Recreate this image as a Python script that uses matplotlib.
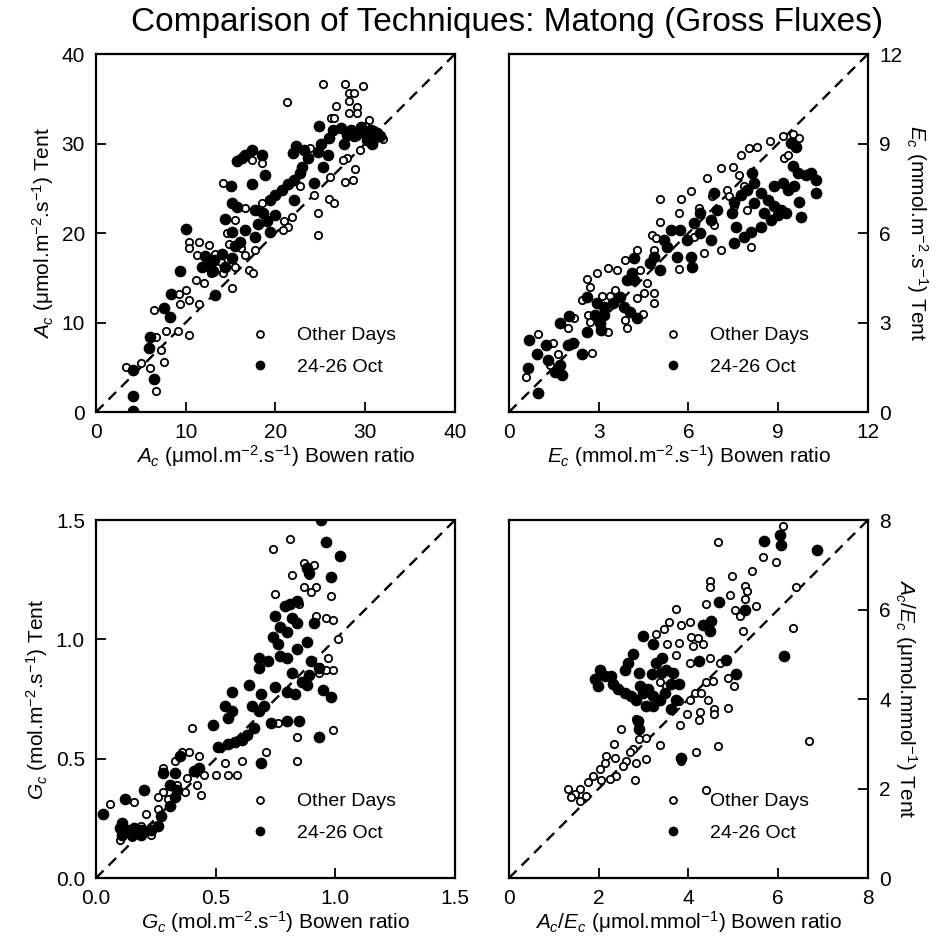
import matplotlib
matplotlib.use("Agg")
import matplotlib.pyplot as plt
from matplotlib.lines import Line2D
from matplotlib.ticker import FormatStrFormatter

plt.rcParams['font.family'] = ['Liberation Sans', 'DejaVu Sans']
plt.rcParams['mathtext.fontset'] = 'custom'
plt.rcParams['mathtext.rm'] = 'Liberation Sans'
plt.rcParams['mathtext.it'] = 'Liberation Sans:italic'

# ---- panel 1: A_c ----
a_other_x = [25.3, 27.8, 29.8, 21.3, 28.2, 28.8, 26.7, 28.2, 29.1, 28.2, 29.1, 26.2, 26.5, 30.4, 29.4, 23.8,
             28.0, 27.5, 28.9, 27.8, 28.6, 26.1, 17.4, 18.5, 14.2, 22.7, 24.3, 24.7, 24.7, 26.0, 26.5, 21.8,
             21.0, 21.4, 20.8, 18.5, 16.6, 15.5, 14.6, 10.4, 11.5, 10.4, 12.6, 11.3, 16.2, 16.6, 17.7, 15.5,
             17.0, 17.5, 14.2, 11.1, 15.2, 10.0, 9.3, 9.4, 10.4, 11.5, 6.5, 7.8, 9.1, 10.4, 6.7, 7.2, 7.6,
             5.0, 3.3, 6.0, 6.7, 13.3, 12.2, 13.9, 12.8, 12.0, 14.8, 31.0, 30.0, 32.0]
a_other_y = [36.6, 36.6, 36.4, 34.6, 35.6, 35.6, 34.2, 34.7, 34.1, 33.4, 33.4, 32.8, 32.8, 32.6, 29.3, 29.5,
             28.4, 28.2, 27.1, 25.7, 25.9, 26.3, 28.2, 27.8, 25.6, 25.2, 24.3, 22.2, 19.8, 23.8, 23.3, 21.8,
             21.3, 20.7, 20.3, 23.3, 22.8, 21.5, 20.0, 19.0, 19.0, 18.3, 18.7, 17.5, 18.3, 17.5, 18.1, 16.2,
             15.9, 15.5, 15.5, 14.7, 13.9, 13.6, 13.2, 12.1, 12.5, 12.1, 11.4, 9.1, 9.1, 8.6, 8.4, 6.9, 5.6,
             5.5, 5.0, 4.9, 2.4, 17.7, 16.2, 16.8, 15.5, 14.4, 18.8, 31.5, 32.0, 30.5]
a_oct_x = [24.9, 26.4, 27.3, 28.4, 29.5, 30.6, 31.3, 31.7, 30.2, 28.8, 30.8, 27.6, 22.3, 21.9, 23.2, 25.1,
           24.7, 25.8, 23.6, 16.3, 15.7, 17.4, 18.5, 16.6, 18.8, 17.4, 15.0, 22.9, 22.7, 22.1, 25.3, 24.3,
           21.4, 20.7, 19.9, 19.4, 22.1, 15.1, 15.7, 17.7, 18.6, 19.0, 19.4, 14.4, 16.6, 17.7, 10.0, 15.1,
           15.5, 12.2, 11.8, 13.1, 14.0, 14.4, 15.1, 9.4, 13.3, 8.4, 7.6, 8.2, 6.0, 5.9, 6.5, 4.1, 4.1, 4.1,
           29.0, 30.0, 31.0, 28.0, 26.0, 20.0, 18.0, 13.0, 12.5, 16.0]
a_oct_y = [32.0, 31.5, 31.7, 31.5, 31.9, 31.5, 31.2, 30.8, 30.4, 30.8, 30.0, 30.0, 29.7, 28.9, 29.3, 30.0,
           29.1, 28.7, 28.4, 28.4, 28.0, 29.3, 28.7, 28.7, 26.5, 25.5, 25.2, 27.4, 26.7, 25.9, 27.4, 25.6,
           25.5, 24.8, 24.3, 23.7, 23.7, 23.4, 22.9, 22.6, 22.2, 21.3, 20.1, 21.6, 20.3, 19.6, 20.4, 20.1,
           18.5, 17.4, 16.2, 17.0, 17.7, 16.2, 17.2, 15.7, 13.1, 13.2, 11.6, 10.6, 8.4, 7.1, 3.7, 4.7, 1.8, 0.1,
           31.0, 31.2, 30.6, 31.0, 30.6, 22.0, 21.0, 15.8, 16.6, 19.0]

# ---- panel 2: E_c ----
e_other_x = [9.15, 9.49, 9.71, 8.72, 8.29, 8.03, 7.75, 7.08, 7.50, 9.21, 9.32, 6.61, 7.69, 6.07, 5.76, 5.06,
             5.68, 5.04, 6.35, 4.78, 4.93, 6.80, 7.30, 7.36, 4.28, 4.84, 6.52, 7.08, 5.70, 3.89, 3.61, 3.32,
             2.93, 2.60, 2.71, 3.10, 3.38, 3.55, 4.39, 4.61, 4.50, 4.84, 4.28, 4.48, 4.84, 2.43, 2.65, 2.71,
             3.32, 3.89, 3.94, 2.17, 1.98, 0.97, 1.48, 1.65, 1.37, 0.58, 2.77, 6.18, 6.85, 7.53, 7.86, 7.97, 8.08]
e_other_y = [9.24, 9.32, 9.18, 9.07, 8.90, 8.85, 8.62, 8.18, 8.21, 8.51, 8.62, 7.84, 7.95, 7.42, 7.13, 7.13,
             6.66, 6.38, 6.83, 5.93, 5.82, 7.25, 7.45, 7.25, 5.43, 5.43, 5.32, 5.43, 4.78, 5.10, 4.76, 4.82,
             4.65, 4.45, 4.20, 3.89, 3.89, 4.09, 4.76, 4.31, 3.98, 3.98, 3.81, 3.27, 3.64, 3.75, 3.25, 3.02,
             2.69, 3.08, 2.80, 3.14, 2.80, 2.60, 2.30, 1.96, 1.57, 1.18, 1.99, 5.88, 6.27, 6.89, 7.56, 6.77, 5.54]
e_oct_x = [9.43, 9.60, 9.49, 9.65, 10.1, 10.27, 9.93, 10.27, 9.71, 9.76, 8.14, 8.20, 8.87, 9.15, 9.32, 9.54,
           8.42, 8.65, 8.87, 9.09, 9.26, 8.20, 8.53, 8.75, 8.98, 7.97, 7.75, 7.53, 7.47, 6.85, 6.96, 6.74,
           7.58, 7.86, 8.08, 7.53, 8.42, 6.40, 6.18, 6.40, 6.74, 5.73, 5.96, 5.28, 5.62, 6.07, 6.12, 4.84,
           5.06, 4.73, 4.17, 4.11, 3.94, 4.17, 3.72, 3.49, 3.83, 4.05, 4.28, 2.93, 3.16, 3.16, 2.89, 2.61,
           3.06, 3.04, 2.01, 1.70, 2.61, 1.98, 2.15, 2.43, 0.67, 0.92, 1.25, 1.31, 1.70, 1.76, 1.53, 0.64,
           0.97, 5.17, 5.40]
e_oct_y = [9.01, 8.90, 8.23, 8.01, 8.01, 7.78, 7.95, 7.33, 7.05, 6.55, 8.01, 7.67, 7.56, 7.67, 7.45, 7.56,
           7.33, 7.11, 6.89, 6.77, 6.66, 7.00, 6.66, 6.44, 6.61, 7.45, 7.28, 7.05, 6.66, 7.33, 6.77, 6.44,
           6.21, 5.88, 6.05, 5.65, 6.21, 6.66, 6.33, 5.99, 5.77, 6.10, 5.77, 5.54, 5.21, 5.21, 4.87, 5.21,
           4.76, 4.98, 5.15, 4.65, 4.42, 4.42, 3.86, 3.64, 3.53, 3.36, 3.14, 3.64, 3.53, 3.25, 3.25, 3.86,
           2.74, 2.97, 3.21, 2.97, 2.69, 2.24, 2.30, 1.96, 2.41, 1.96, 2.24, 1.74, 1.57, 1.23, 1.34, 1.46,
           0.64, 5.77, 6.10]

# ---- panel 3: G_c ----
g_other_x = [0.81, 0.74, 0.87, 0.91, 0.89, 0.82, 0.87, 0.92, 0.90, 0.75, 0.98, 0.85, 0.92, 0.96, 0.99, 0.84,
             1.01, 0.97, 0.93, 0.96, 0.99, 0.99, 0.84, 0.84, 0.76, 0.71, 0.61, 0.54, 0.40, 0.39, 0.36, 0.43,
             0.33, 0.28, 0.38, 0.45, 0.50, 0.55, 0.59, 0.42, 0.37, 0.44, 0.34, 0.28, 0.26, 0.30, 0.16, 0.06,
             0.21, 0.26, 0.23, 0.10, 0.15, 0.19, 0.24]
g_other_y = [1.42, 1.38, 1.32, 1.31, 1.27, 1.27, 1.22, 1.22, 1.20, 1.19, 1.18, 1.15, 1.10, 1.09, 1.08, 1.07,
             1.00, 0.92, 0.86, 0.87, 0.87, 0.62, 0.59, 0.49, 0.65, 0.53, 0.49, 0.48, 0.63, 0.53, 0.53, 0.51,
             0.49, 0.46, 0.42, 0.43, 0.43, 0.43, 0.43, 0.39, 0.36, 0.35, 0.39, 0.36, 0.34, 0.33, 0.32, 0.31,
             0.27, 0.29, 0.18, 0.16, 0.17, 0.22, 0.22]
g_oct_x = [0.94, 0.96, 1.02, 0.98, 0.88, 0.89, 0.81, 0.84, 0.79, 0.75, 0.82, 0.84, 0.91, 0.77, 0.80, 0.74,
           0.76, 0.88, 0.84, 0.77, 0.80, 0.68, 0.72, 0.68, 0.90, 0.93, 0.82, 0.89, 0.86, 0.88, 0.64, 0.57,
           0.75, 0.69, 0.65, 0.70, 0.68, 0.80, 0.83, 0.95, 0.98, 0.54, 0.55, 0.57, 0.49, 0.73, 0.80, 0.85,
           0.93, 0.66, 0.63, 0.61, 0.58, 0.55, 0.51, 0.69, 0.35, 0.28, 0.33, 0.41, 0.43, 0.20, 0.12, 0.03,
           0.31, 0.34, 0.33, 0.31, 0.10, 0.13, 0.16, 0.19, 0.11, 0.15, 0.19, 0.23, 0.26, 0.11, 0.27]
g_oct_y = [1.50, 1.41, 1.35, 1.26, 1.30, 1.28, 1.15, 1.16, 1.14, 1.10, 1.09, 1.07, 1.07, 1.05, 1.03, 1.01,
           0.98, 0.99, 0.96, 0.93, 0.92, 0.92, 0.91, 0.88, 0.91, 0.88, 0.86, 0.85, 0.82, 0.81, 0.81, 0.78,
           0.80, 0.77, 0.72, 0.72, 0.70, 0.78, 0.77, 0.79, 0.76, 0.72, 0.67, 0.70, 0.64, 0.65, 0.66, 0.66,
           0.59, 0.63, 0.60, 0.58, 0.57, 0.56, 0.55, 0.48, 0.51, 0.44, 0.44, 0.45, 0.46, 0.37, 0.33, 0.27,
           0.39, 0.37, 0.34, 0.30, 0.21, 0.20, 0.21, 0.20, 0.18, 0.18, 0.18, 0.20, 0.22, 0.23, 0.26]

# ---- panel 4: A_c/E_c ----
r_other_x = [6.11, 4.66, 5.66, 5.94, 5.42, 4.96, 4.49, 4.49, 4.93, 5.27, 5.31, 5.27, 6.40, 4.38, 3.73, 5.03,
             5.14, 5.50, 6.34, 5.22, 3.57, 3.28, 3.45, 3.84, 4.04, 4.06, 4.21, 3.80, 4.10, 4.32, 3.52, 3.73,
             4.47, 4.71, 4.03, 4.38, 4.55, 4.87, 5.01, 3.36, 3.51, 3.80, 4.04, 4.14, 4.29, 4.43, 4.87, 4.56,
             4.58, 4.25, 4.23, 3.97, 3.82, 2.50, 2.84, 2.90, 3.06, 3.36, 2.33, 2.76, 2.69, 2.61, 2.54, 2.82,
             3.06, 2.17, 2.13, 2.02, 2.36, 2.39, 2.24, 2.06, 2.80, 4.17, 4.66, 6.69, 1.87, 1.76, 1.58, 1.31,
             1.46, 1.39, 1.58, 1.72, 4.40, 3.84]
r_other_y = [7.87, 7.51, 7.17, 7.06, 6.87, 6.76, 6.64, 6.50, 6.33, 6.53, 6.41, 6.24, 6.50, 6.13, 6.01, 6.00,
             5.85, 6.09, 5.59, 5.52, 5.72, 5.46, 5.57, 5.66, 5.72, 5.39, 5.37, 5.26, 5.18, 5.22, 5.24, 4.98,
             4.91, 4.80, 4.81, 4.38, 4.40, 4.46, 4.29, 4.38, 4.29, 3.96, 3.98, 4.13, 4.13, 3.99, 3.81, 3.77,
             3.66, 3.70, 3.53, 3.66, 3.42, 3.33, 3.56, 3.10, 3.14, 2.97, 2.99, 2.88, 2.82, 2.62, 2.51, 2.58,
             2.66, 2.73, 2.58, 2.44, 2.69, 2.29, 2.21, 2.18, 2.18, 2.81, 2.95, 3.07, 2.29, 2.14, 1.99, 1.99,
             1.88, 1.80, 1.73, 1.84, 1.97, 2.62]
r_oct_x = [5.68, 6.03, 6.07, 6.86, 4.68, 5.27, 4.51, 4.47, 4.32, 6.13, 2.99, 3.21, 3.41, 2.76, 2.65, 2.58,
           2.90, 3.19, 4.23, 4.84, 5.07, 2.02, 1.91, 1.98, 2.13, 2.28, 2.32, 2.43, 2.58, 2.73, 2.84, 2.99,
           2.91, 3.10, 3.06, 3.21, 3.36, 3.21, 3.47, 3.51, 3.66, 3.62, 3.73, 3.80, 3.28, 3.39, 3.62, 2.87,
           2.89, 3.84]
r_oct_y = [7.54, 7.67, 7.45, 7.33, 6.18, 6.00, 5.74, 5.52, 5.66, 4.97, 5.40, 5.22, 4.92, 5.00, 4.81, 4.66,
           4.59, 4.55, 4.85, 4.88, 4.55, 4.66, 4.44, 4.29, 4.51, 4.51, 4.33, 4.22, 4.14, 4.07, 3.99, 4.14,
           4.29, 4.22, 3.85, 3.85, 3.99, 4.07, 4.14, 4.66, 4.59, 4.33, 3.99, 4.33, 4.81, 4.59, 3.77, 3.51,
           3.33, 2.69]

TICKSIZE = 15


def panel(ax, ox, oy, fx, fy, lim, ticks, xlabel, ylabel, right=False, fmt=None):
    ax.plot([0, lim], [0, lim], color='black', lw=1.7, ls=(0, (4.5, 3)), zorder=1)
    ax.scatter(ox, oy, s=28, facecolors='white', edgecolors='black', linewidths=1.3, zorder=2)
    ax.scatter(fx, fy, s=55, color='black', zorder=3)
    ax.set_xlim(0, lim)
    ax.set_ylim(0, lim)
    ax.set_xticks(ticks)
    ax.set_yticks(ticks)
    if fmt:
        ax.xaxis.set_major_formatter(FormatStrFormatter(fmt))
        ax.yaxis.set_major_formatter(FormatStrFormatter(fmt))
    for sp in ax.spines.values():
        sp.set_linewidth(1.6)
    ax.tick_params(direction='in', length=7, width=1.3, labelsize=TICKSIZE, pad=8)
    ax.set_xlabel(xlabel, fontsize=15, labelpad=1)
    if right:
        ax.yaxis.tick_right()
        ax.yaxis.set_label_position('right')
        ax.set_ylabel(ylabel, fontsize=15, rotation=270, labelpad=20)
    else:
        ax.set_ylabel(ylabel, fontsize=15, labelpad=4)
    h = [Line2D([], [], ls='', marker='o', ms=5, mfc='white', mec='black', mew=1.3),
         Line2D([], [], ls='', marker='o', ms=6, color='black')]
    ax.legend(h, ['Other Days', '24-26 Oct'], loc='center left', bbox_to_anchor=(0.355, 0.17),
              frameon=False, fontsize=14, handletextpad=0.9, labelspacing=0.7)


fig = plt.figure(figsize=(9.47, 9.48), dpi=100)
ax1 = fig.add_axes([0.1014, 0.5654, 0.379, 0.3776])
ax2 = fig.add_axes([0.5375, 0.5654, 0.379, 0.3776])
ax3 = fig.add_axes([0.1014, 0.0738, 0.379, 0.3776])
ax4 = fig.add_axes([0.5375, 0.0738, 0.379, 0.3776])

panel(ax1, a_other_x, a_other_y, a_oct_x, a_oct_y, 40, [0, 10, 20, 30, 40],
      r'$A_c$ (μmol.m$^{-2}$.s$^{-1}$) Bowen ratio', r'$A_c$ (μmol.m$^{-2}$.s$^{-1}$) Tent')
panel(ax2, e_other_x, e_other_y, e_oct_x, e_oct_y, 12, [0, 3, 6, 9, 12],
      r'$E_c$ (mmol.m$^{-2}$.s$^{-1}$) Bowen ratio', r'$E_c$ (mmol.m$^{-2}$.s$^{-1}$) Tent', right=True)
panel(ax3, g_other_x, g_other_y, g_oct_x, g_oct_y, 1.5, [0, 0.5, 1.0, 1.5],
      r'$G_c$ (mol.m$^{-2}$.s$^{-1}$) Bowen ratio', r'$G_c$ (mol.m$^{-2}$.s$^{-1}$) Tent', fmt='%.1f')
panel(ax4, r_other_x, r_other_y, r_oct_x, r_oct_y, 8, [0, 2, 4, 6, 8],
      r'$A_c$/$E_c$ (μmol.mmol$^{-1}$) Bowen ratio', r'$A_c$/$E_c$ (μmol.mmol$^{-1}$) Tent', right=True)

fig.text(0.535, 0.976, 'Comparison of Techniques: Matong (Gross Fluxes)', fontsize=24,
         ha='center', va='center')

fig.savefig('out.png', dpi=100)
